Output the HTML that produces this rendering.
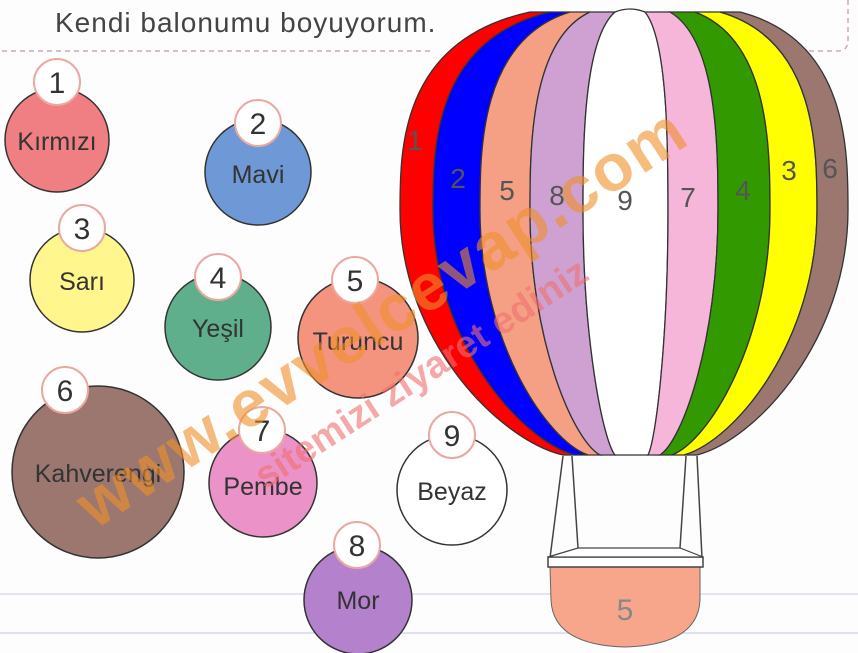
<!DOCTYPE html>
<html><head><meta charset="utf-8"><style>
html,body{margin:0;padding:0;background:#fff}
svg{display:block}
text{font-family:"Liberation Sans","DejaVu Sans",sans-serif}
</style></head><body>
<svg width="858" height="653" viewBox="0 0 858 653" xmlns="http://www.w3.org/2000/svg">
<rect width="858" height="653" fill="#fdfdfe"/>
<text x="55" y="32" font-size="28" fill="#444" letter-spacing="1">Kendi balonumu boyuyorum.</text>
<line x1="2" y1="51" x2="430" y2="51" stroke="#c8a8c0" stroke-width="1.5" stroke-dasharray="5,4"/>
<path d="M800,51 L838,51 Q848,51 848,40 L848,0" fill="none" stroke="#d0a8b8" stroke-width="1.5" stroke-dasharray="5,4"/>
<line x1="0" y1="594" x2="858" y2="594" stroke="#e4e4ee" stroke-width="2"/>
<line x1="0" y1="633" x2="858" y2="633" stroke="#e0e0ee" stroke-width="2"/>

<g stroke="#333" stroke-width="1.5">
<circle cx="57" cy="140" r="52" fill="#f07f84"/>
<circle cx="258" cy="172" r="53" fill="#6e98d6"/>
<circle cx="82" cy="280" r="52" fill="#fff78e"/>
<circle cx="218" cy="327" r="53" fill="#5fae8c"/>
<circle cx="358" cy="338" r="60" fill="#f4937e"/>
<circle cx="98" cy="472" r="86" fill="#9b7770"/>
<circle cx="263" cy="483" r="54" fill="#eb92c9"/>
<circle cx="452" cy="490" r="55" fill="#ffffff"/>
<circle cx="358" cy="600" r="54" fill="#b481cc"/>
</g>
<g fill="#fff" stroke="#eaa8a0" stroke-width="2">
<circle cx="57" cy="82" r="23"/>
<circle cx="258" cy="123" r="23"/>
<circle cx="82" cy="228" r="23"/>
<circle cx="218" cy="277" r="23"/>
<circle cx="355" cy="280" r="23"/>
<circle cx="65" cy="390" r="23"/>
<circle cx="262" cy="430" r="23"/>
<circle cx="452" cy="435" r="23"/>
<circle cx="357" cy="545" r="23"/>
</g>
<g font-size="30" fill="#333" text-anchor="middle">
<text x="57" y="93">1</text>
<text x="258" y="134">2</text>
<text x="82" y="239">3</text>
<text x="218" y="288">4</text>
<text x="355" y="291">5</text>
<text x="65" y="401">6</text>
<text x="262" y="441">7</text>
<text x="452" y="446">9</text>
<text x="357" y="556">8</text>
</g>
<g font-size="25" fill="#333" text-anchor="middle">
<text x="57" y="150">Kırmızı</text>
<text x="258" y="183">Mavi</text>
<text x="82" y="290">Sarı</text>
<text x="218" y="337">Yeşil</text>
<text x="358" y="350">Turuncu</text>
<text x="98" y="482">Kahverengi</text>
<text x="263" y="495">Pembe</text>
<text x="452" y="500">Beyaz</text>
<text x="358" y="609">Mor</text>
</g>

<g stroke="#333" stroke-width="1.3">
<path fill="#ff0000" d="M530,12 C400,40 400,150 400,210 C400,340 499,440 563,455 L575,455 C520,440 433,340 433,210 C433,150 433,40 550,12 Z"/>
<path fill="#0000ff" d="M550,12 C433,40 433,150 433,210 C433,340 520,440 575,455 L588,455 C546,440 480,340 480,210 C480,150 480,40 570,12 Z"/>
<path fill="#f5a085" d="M570,12 C480,40 480,150 480,210 C480,340 546,440 588,455 L600,455 C573,440 530,340 530,210 C530,150 530,40 590,12 Z"/>
<path fill="#cfa0d2" d="M590,12 C530,40 530,150 530,210 C530,340 573,440 600,455 L615,455 C603,440 583,340 583,210 C583,150 583,40 615,12 Z"/>
<path fill="#ffffff" d="M615,12 C583,40 583,150 583,210 C583,340 603,440 615,455 L648,455 C656,440 668,340 668,210 C668,150 668,40 645,12 Q630,6 615,12 Z"/>
<path fill="#f6b6da" d="M645,12 C668,40 668,150 668,210 C668,340 656,440 648,455 L660,455 C683,440 718,340 718,210 C718,150 718,40 670,12 Z"/>
<path fill="#339900" d="M670,12 C718,40 718,150 718,210 C718,340 683,440 660,455 L672,455 C710,440 770,340 770,210 C770,150 770,40 695,12 Z"/>
<path fill="#ffff00" d="M695,12 C770,40 770,150 770,210 C770,340 710,440 672,455 L684,455 C736,440 817,340 817,210 C817,150 817,40 720,12 Z"/>
<path fill="#9b7770" d="M720,12 C817,40 817,150 817,210 C817,340 736,440 684,455 L697,455 C756,440 848,340 848,210 C848,150 848,40 740,12 Z"/>
</g>
<g font-size="28" fill="#555" text-anchor="middle">
<text x="415" y="150">1</text>
<text x="458" y="188">2</text>
<text x="507" y="200">5</text>
<text x="557" y="205">8</text>
<text x="625" y="210">9</text>
<text x="688" y="207">7</text>
<text x="743" y="200">4</text>
<text x="789" y="180">3</text>
<text x="830" y="178">6</text>
</g>

<g stroke="#444" stroke-width="1.5" fill="none">
<line x1="563" y1="456" x2="550" y2="558"/>
<line x1="572" y1="456" x2="578" y2="548"/>
<line x1="697" y1="456" x2="702" y2="558"/>
<line x1="686" y1="456" x2="680" y2="548"/>
</g>
<path d="M550,567 L700,567 L700,600 Q698,645 625,647 Q553,645 551,600 Z" fill="#f8a68b" stroke="#666" stroke-width="1"/>
<path d="M548,557 L703,557 L703,567 L548,567 Z" fill="#fff" stroke="#444" stroke-width="1.5"/>
<path d="M578,548 L680,548 L703,557 L548,557 Z" fill="#fff" stroke="#444" stroke-width="1.2"/>
<text x="625" y="620" font-size="30" fill="#888" text-anchor="middle">5</text>

<g opacity="0.6" font-weight="bold">
<text x="0" y="0" font-size="66" fill="#f0902a" transform="translate(95,530) rotate(-33)" letter-spacing="2">www.evvelcevap.com</text>
<text x="0" y="0" font-size="38" fill="#f07070" transform="translate(265,490) rotate(-33)">sitemizi ziyaret ediniz</text>
</g>
</svg>
</body></html>
